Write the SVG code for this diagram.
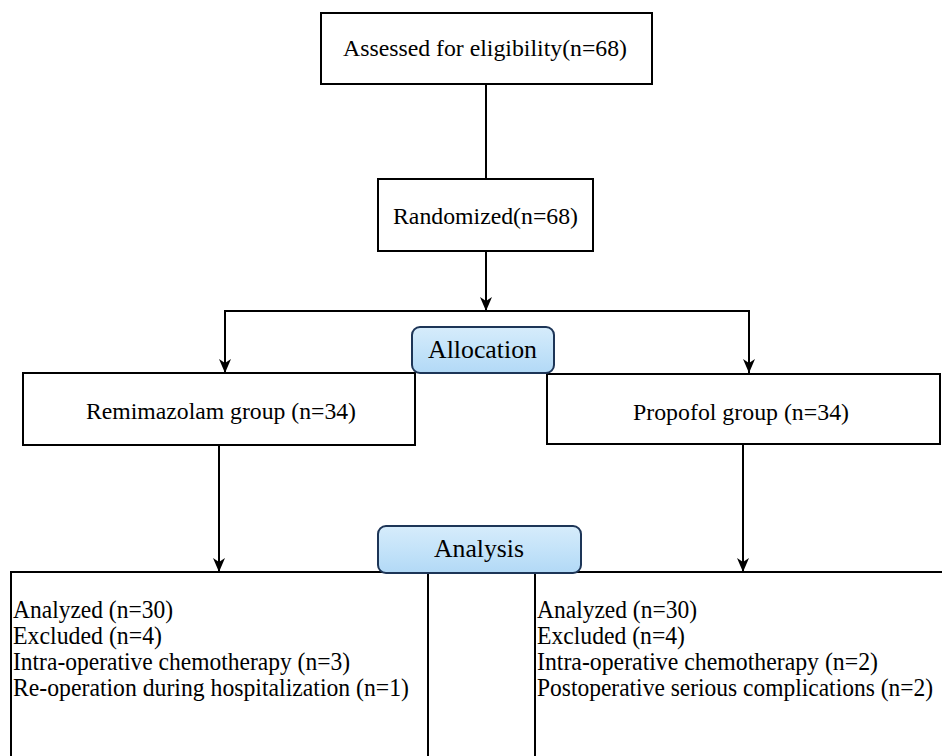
<svg xmlns="http://www.w3.org/2000/svg" width="942" height="756" viewBox="0 0 942 756">
<style>
.box{fill:#ffffff;stroke:#000000;stroke-width:2}
.tag{fill:url(#blue);stroke:#1d3557;stroke-width:2}
.t{font-family:"Liberation Serif","Times New Roman",serif;fill:#000000}
.c{text-anchor:middle}
.line{stroke:#000000;stroke-width:2;fill:none}
.b{font-size:25px}
</style>
<defs>
<linearGradient id="blue" x1="0" y1="0" x2="0" y2="1">
<stop offset="0" stop-color="#d6ecfb"/>
<stop offset="0.5" stop-color="#c4e3f9"/>
<stop offset="1" stop-color="#b2d9f6"/>
</linearGradient>
<marker id="arr" markerUnits="userSpaceOnUse" markerWidth="14" markerHeight="12" viewBox="0 0 14 12" refX="14" refY="6" orient="auto">
<path d="M0,0 L14,6 L0,12 L4,6 Z" fill="#000000"/>
</marker>
</defs>

<g id="connectors">
<line class="line" x1="486" y1="84" x2="486" y2="179"/>
<line class="line" x1="486" y1="251" x2="486" y2="311" marker-end="url(#arr)"/>
<polyline class="line" points="225,373 225,311 749,311 749,373"/>
<line class="line" x1="225" y1="340" x2="225" y2="373" marker-end="url(#arr)"/>
<line class="line" x1="749" y1="340" x2="749" y2="373" marker-end="url(#arr)"/>
<line class="line" x1="219" y1="445" x2="219" y2="572" marker-end="url(#arr)" stroke-width="1.6"/>
<line class="line" x1="743" y1="444" x2="743" y2="572" marker-end="url(#arr)" stroke-width="1.6"/>
</g>

<g id="assessed">
<rect class="box" x="321" y="13" width="331" height="71"/>
<text class="t c" x="485" y="56" font-size="24" textLength="284" lengthAdjust="spacingAndGlyphs">Assessed for eligibility(n=68)</text>
</g>

<g id="randomized">
<rect class="box" x="378" y="179" width="215" height="72"/>
<text class="t c" x="485.5" y="224" font-size="24" textLength="185" lengthAdjust="spacingAndGlyphs">Randomized(n=68)</text>
</g>

<g id="remimazolam">
<rect class="box" x="23" y="373" width="392" height="72"/>
<text class="t" x="86" y="419" font-size="24" textLength="270" lengthAdjust="spacingAndGlyphs">Remimazolam group (n=34)</text>
</g>

<g id="propofol">
<rect class="box" x="547" y="374" width="393" height="70"/>
<text class="t" x="633" y="420" font-size="24" textLength="216" lengthAdjust="spacingAndGlyphs">Propofol group (n=34)</text>
</g>

<g id="allocation">
<rect class="tag" x="412" y="327" width="142" height="46" rx="8" ry="8"/>
<text class="t" x="428" y="358" font-size="25" textLength="109" lengthAdjust="spacingAndGlyphs">Allocation</text>
</g>

<g id="left-analysis">
<rect class="box" x="11" y="572" width="417" height="200" stroke-width="2.4"/>
<text class="t b" x="13" y="618" textLength="160" lengthAdjust="spacingAndGlyphs">Analyzed (n=30)</text>
<text class="t b" x="13" y="644" textLength="149" lengthAdjust="spacingAndGlyphs">Excluded (n=4)</text>
<text class="t b" x="13" y="670" textLength="337" lengthAdjust="spacingAndGlyphs">Intra-operative chemotherapy (n=3)</text>
<text class="t b" x="13" y="696" textLength="396" lengthAdjust="spacingAndGlyphs">Re-operation during hospitalization (n=1)</text>
</g>

<g id="right-analysis">
<rect class="box" x="535" y="572" width="420" height="200" stroke-width="2.4"/>
<text class="t b" x="537" y="618" textLength="160" lengthAdjust="spacingAndGlyphs">Analyzed (n=30)</text>
<text class="t b" x="537" y="644" textLength="148" lengthAdjust="spacingAndGlyphs">Excluded (n=4)</text>
<text class="t b" x="537" y="670" textLength="341" lengthAdjust="spacingAndGlyphs">Intra-operative chemotherapy (n=2)</text>
<text class="t b" x="537" y="696" textLength="396" lengthAdjust="spacingAndGlyphs">Postoperative serious complications (n=2)</text>
</g>

<g id="analysis">
<rect class="tag" x="378" y="526" width="203" height="47" rx="8" ry="8"/>
<text class="t" x="434" y="557" font-size="25" textLength="90" lengthAdjust="spacingAndGlyphs">Analysis</text>
</g>
</svg>
